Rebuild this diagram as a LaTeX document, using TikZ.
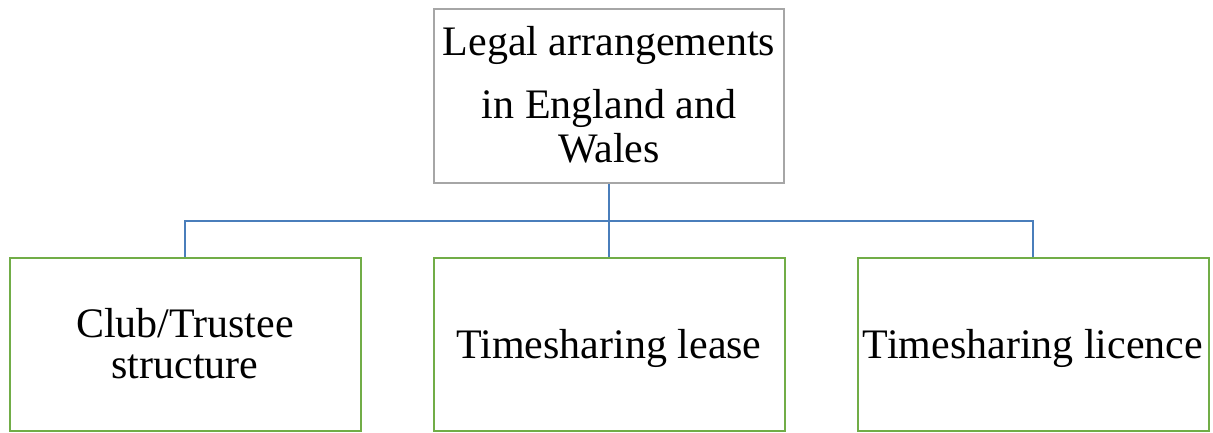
\documentclass[tikz,border=0pt]{standalone}
\usepackage{fontspec}
\setmainfont{Liberation Serif}
\definecolor{rootgray}{HTML}{A6A6A6}
\definecolor{linkblue}{HTML}{4A7EBB}
\definecolor{leafgreen}{HTML}{71AD47}
\tikzset{
  rootbox/.style={draw=rootgray, line width=2pt, minimum width=350pt, minimum height=174pt, inner sep=0pt},
  leafbox/.style={draw=leafgreen, line width=2pt, minimum width=351pt, minimum height=173pt, inner sep=0pt},
  txt/.style={anchor=base, inner sep=0pt, font=\fontsize{42}{44}\selectfont},
  conn/.style={draw=linkblue, line width=2pt}
}
\begin{document}
\begin{tikzpicture}[x=1pt, y=-1pt]
  \useasboundingbox (0,0) rectangle (1213,432);
  % boxes
  \node[rootbox] (root) at (609,96) {};
  \node[leafbox] (club) at (185,344.5) {};
  \node[leafbox] (lease) at (609,344.5) {};
  \node[leafbox] (licence) at (1033.25,344.5) {};
  % texts
  \node[txt] (root-a) at (609,55) {Legal arrangements};
  \node[txt] (root-b) at (609,118) {in England and};
  \node[txt] (root-c) at (609,162) {Wales};
  \node[txt] (club-a) at (185,337) {Club/Trustee};
  \node[txt] (club-b) at (185,378) {structure};
  \node[txt] (lease-a) at (609,358) {Timesharing lease};
  \node[txt] (licence-a) at (1033,358) {Timesharing licence};
  % connectors
  \coordinate (bus) at (609,220.5);
  \draw[conn] (root.south) -- (bus);
  \draw[conn] (bus) -| (club.north);
  \draw[conn] (bus) -| (licence.north);
  \draw[conn] (bus) -- (lease.north);
\end{tikzpicture}
\end{document}
